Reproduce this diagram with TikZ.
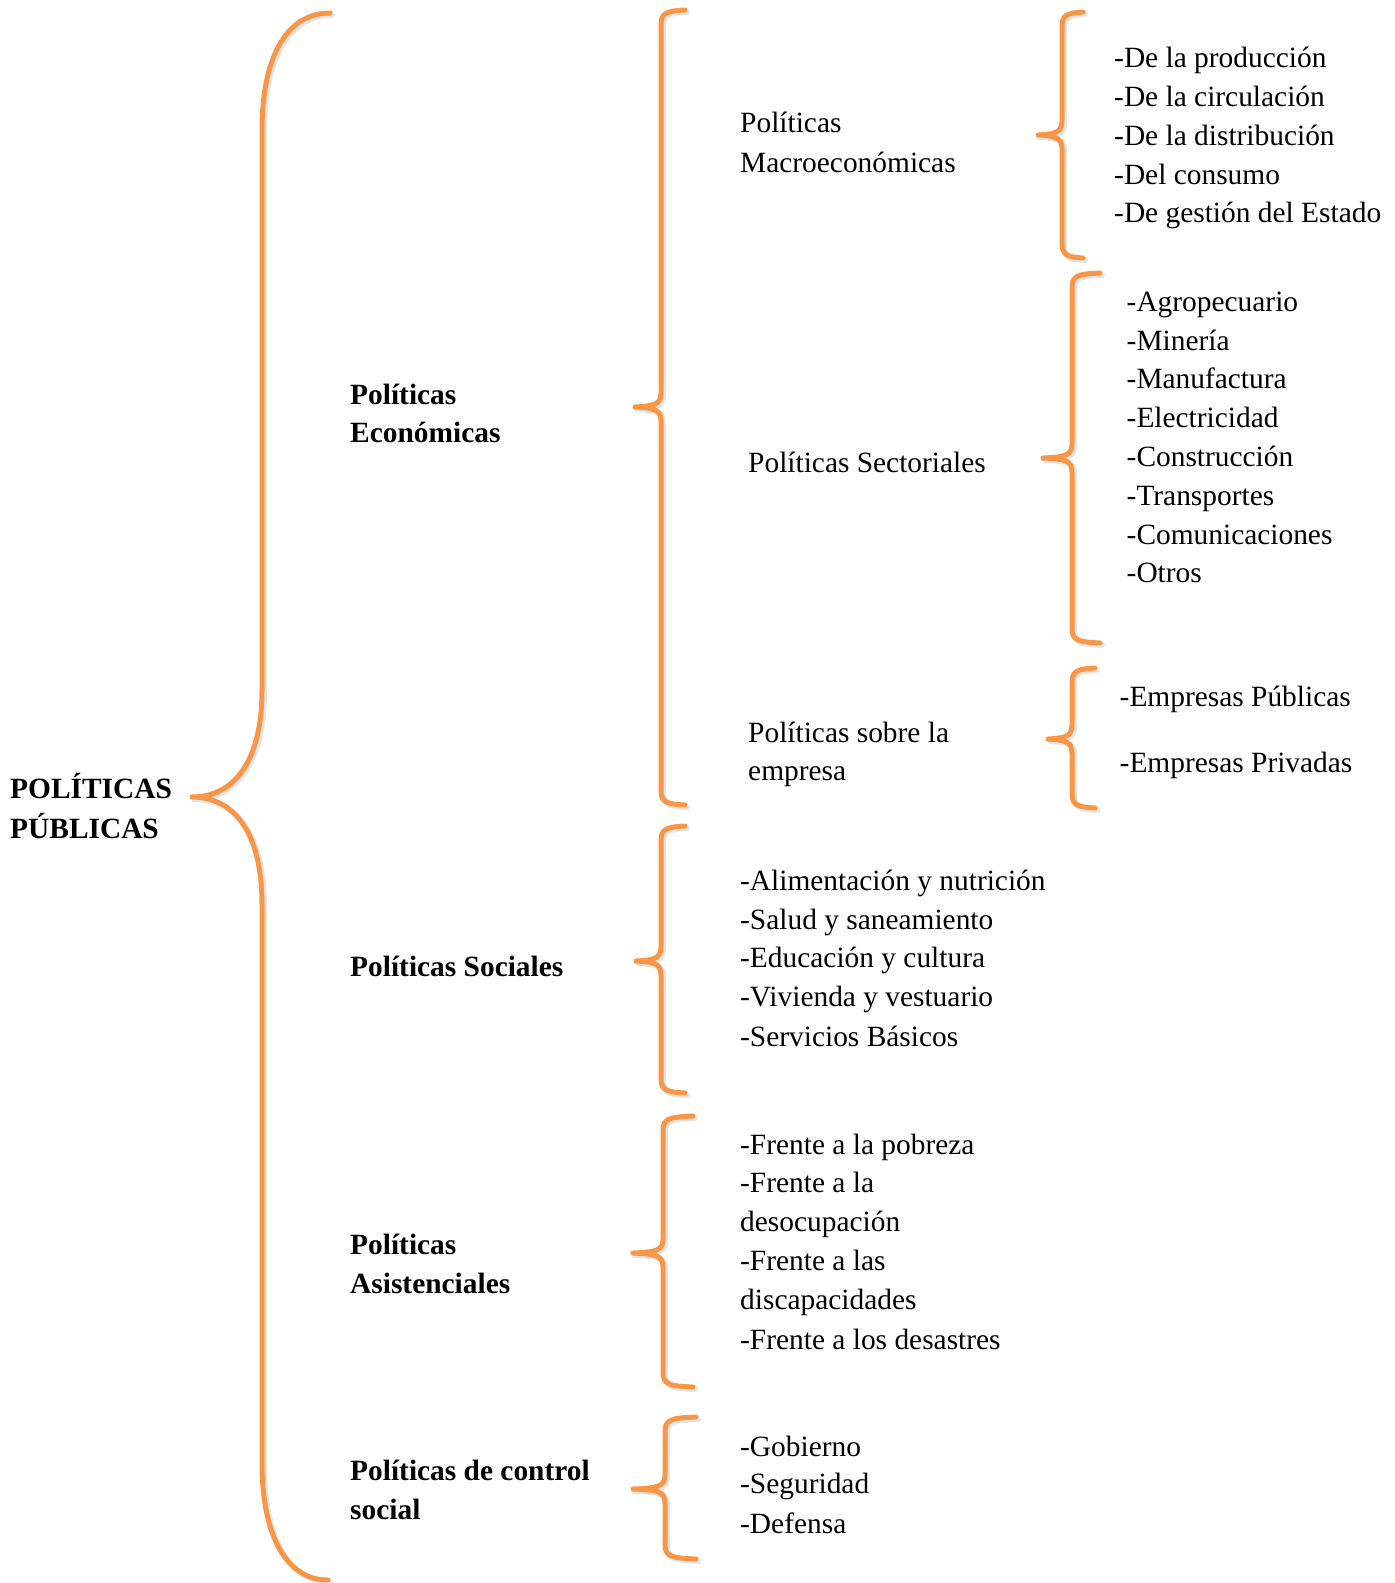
\documentclass[tikz,border=0pt]{standalone}
\usepackage{fontspec}
\setmainfont{Liberation Serif}
\definecolor{braceorange}{RGB}{247,150,70}
\newcommand\smbrace[7][]{% #2 xv, #3 ytop, #4 ytip, #5 ybot, #6 xend, #7 xtip
  \foreach \sty/\sh in {braceshadow/2, bracestyle/0}{
  \draw[\sty, shift={(\sh,\sh)}] (#6,#3) .. controls (#2+5,#3+1) and (#2,#3+3) .. (#2,#3+15)
     -- (#2,#4-14) .. controls (#2,#4-2) and (#2-8,#4-1) .. (#7,#4)
     .. controls (#2-8,#4+1) and (#2,#4+2) .. (#2,#4+14)
     -- (#2,#5-15) .. controls (#2,#5-3) and (#2+5,#5-1) .. (#6,#5);}
}
\tikzset{
  bracestyle/.style={draw=braceorange, line width=5pt, line cap=round, line join=round},
  braceshadow/.style={draw=black!30, opacity=0.35, line width=6pt, line cap=round, line join=round},
  txt/.style={anchor=base west, inner sep=0pt, font=\fontsize{29.4}{34}\selectfont},
  btxt/.style={txt, font=\fontsize{29.4}{34}\selectfont\bfseries},
}
\begin{document}
\begin{tikzpicture}[x=1pt,y=-1pt]
\useasboundingbox (0,0) rectangle (1395,1583);

% big brace
\foreach \sty/\sh in {braceshadow/2, bracestyle/0}{
\draw[\sty, shift={(\sh,\sh)}] (330,13) .. controls (285,13) and (262,60) .. (262,130) -- (262,690)
  .. controls (262,760) and (235,797) .. (192,797)
  .. controls (235,797) and (262,834) .. (262,904) -- (262,1463)
  .. controls (262,1533) and (285,1580) .. (328,1580);
}

% second-level braces
\smbrace{661}{10}{407}{805}{685}{635}
\smbrace{661}{826}{961}{1093}{685}{636}
\smbrace{663}{1116}{1253}{1387}{693}{633}
\smbrace{665}{1417}{1489}{1559}{696}{633}
% third-level braces
\smbrace{1062}{12}{135}{258}{1083}{1038}
\smbrace{1072}{273}{458}{643}{1100}{1043}
\smbrace{1072}{668}{739}{808}{1095}{1048}

\begin{scope}[shift={(0,2)}]
% root
\node[btxt] (pp1) at (10,796.5) {POLÍTICAS};
\node[btxt] (pp2) at (10,836) {PÚBLICAS};

% first level
\node[btxt] (eco1) at (350,402.2) {Políticas};
\node[btxt] (eco2) at (350,440.6) {Económicas};
\node[btxt] (soc) at (350,974.6) {Políticas Sociales};
\node[btxt] (asi1) at (350,1252.2) {Políticas};
\node[btxt] (asi2) at (350,1291.5) {Asistenciales};
\node[btxt] (con1) at (350,1478.3) {Políticas de control};
\node[btxt] (con2) at (350,1517.6) {social};

% second level (economic)
\node[txt] (mac1) at (740,130.7) {Políticas};
\node[txt] (mac2) at (740,170) {Macroeconómicas};
\node[txt] (sec) at (748,470) {Políticas Sectoriales};
\node[txt] (emp1) at (748,740.4) {Políticas sobre la};
\node[txt] (emp2) at (748,778.7) {empresa};

% macro items
\node[txt] (m1) at (1114,65) {-De la producción};
\node[txt] (m2) at (1114,104) {-De la circulación};
\node[txt] (m3) at (1114,143) {-De la distribución};
\node[txt] (m4) at (1114,182) {-Del consumo};
\node[txt] (m5) at (1114,220.5) {-De gestión del Estado};

% sector items
\node[txt] (s1) at (1126.5,309.4) {-Agropecuario};
\node[txt] (s2) at (1126.5,348.2) {-Minería};
\node[txt] (s3) at (1126.5,386.9) {-Manufactura};
\node[txt] (s4) at (1126.5,425.7) {-Electricidad};
\node[txt] (s5) at (1126.5,464.4) {-Construcción};
\node[txt] (s6) at (1126.5,503.2) {-Transportes};
\node[txt] (s7) at (1126.5,542.0) {-Comunicaciones};
\node[txt] (s8) at (1126.5,580.7) {-Otros};

% empresa items
\node[txt] (e1) at (1119.5,704) {-Empresas Públicas};
\node[txt] (e2) at (1119.5,770.7) {-Empresas Privadas};

% social items
\node[txt] (so1) at (740,888.8) {-Alimentación y nutrición};
\node[txt] (so2) at (740,927.1) {-Salud y saneamiento};
\node[txt] (so3) at (740,965.5) {-Educación y cultura};
\node[txt] (so4) at (740,1004.9) {-Vivienda y vestuario};
\node[txt] (so5) at (740,1044.2) {-Servicios Básicos};

% asistenciales items
\node[txt] (a1) at (740,1152.2) {-Frente a la pobreza};
\node[txt] (a2) at (740,1190.6) {-Frente a la};
\node[txt] (a3) at (740,1229.9) {desocupación};
\node[txt] (a4) at (740,1268.3) {-Frente a las};
\node[txt] (a5) at (740,1307.7) {discapacidades};
\node[txt] (a6) at (740,1347) {-Frente a los desastres};

% control items
\node[txt] (c1) at (740,1454) {-Gobierno};
\node[txt] (c2) at (740,1491.4) {-Seguridad};
\node[txt] (c3) at (740,1531.8) {-Defensa};
\end{scope}
\end{tikzpicture}
\end{document}
